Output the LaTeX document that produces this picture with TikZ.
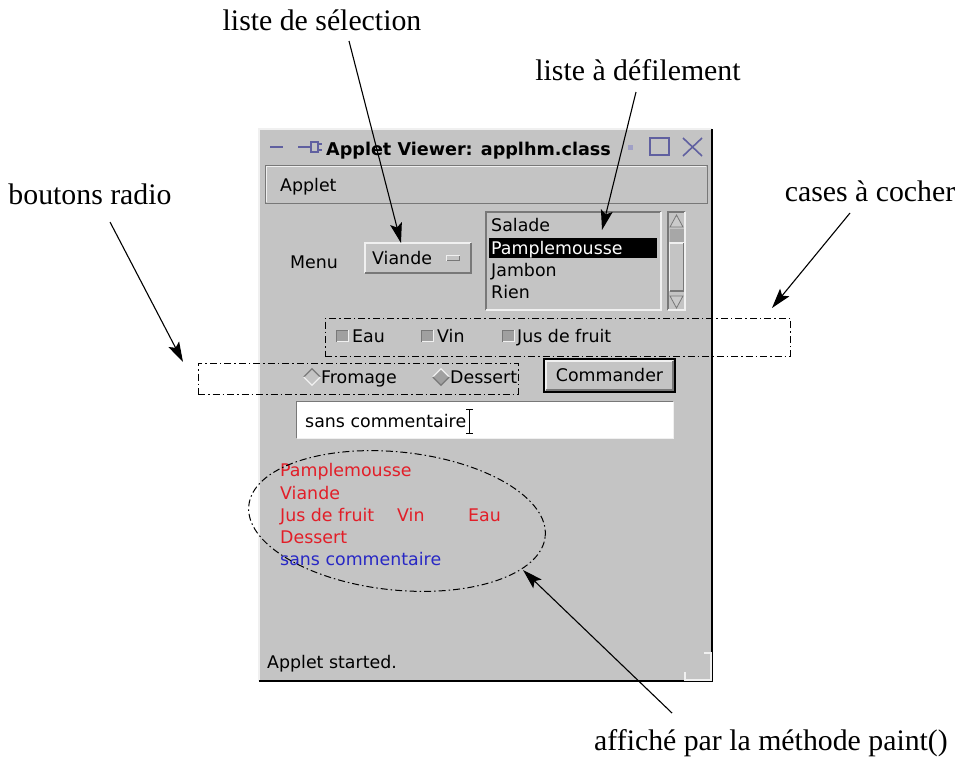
\documentclass[tikz,border=0pt]{standalone}
\usepackage{fontspec}
\usetikzlibrary{arrows.meta,shapes.geometric}
\newfontfamily\lblfont{Liberation Serif}
\newfontfamily\uifont{DejaVu Sans}
\definecolor{panel}{RGB}{196,196,196}
\definecolor{uilight}{RGB}{240,240,240}
\definecolor{uidark}{RGB}{120,120,120}
\definecolor{boxfill}{RGB}{160,160,160}
\definecolor{paintred}{RGB}{226,30,40}
\definecolor{paintblue}{RGB}{40,40,196}
\definecolor{iconblue}{RGB}{96,96,160}
% one colour on the top/left edges, another on the bottom/right edges
\newcommand\uibevel[3]{%
  \draw[#2,line width=1.2pt] (#1.south west) -- (#1.north west) -- (#1.north east);
  \draw[#3,line width=1.2pt] (#1.north east) -- (#1.south east) -- (#1.south west);}
\tikzset{
  lbl/.style={font=\lblfont\fontsize{29.8}{34}\selectfont, inner sep=0, anchor=base},
  ui/.style={font=\uifont\fontsize{17.4}{20}\selectfont, inner sep=0, anchor=base west},
  uibold/.style={font=\uifont\bfseries\fontsize{17.6}{20}\selectfont, inner sep=0, anchor=base west},
  widget/.style={inner sep=0, outer sep=0, fill=panel},
  group/.style={draw, line width=1pt, dash pattern=on 7pt off 3pt on 1.5pt off 3pt, inner sep=0},
  arr/.style={line width=1.1pt, -{Stealth[length=20pt,width=12pt,inset=4pt]}},
  icon/.style={iconblue, line width=1.6pt}
}
\begin{document}
\begin{tikzpicture}[x=1pt,y=-1pt]
\useasboundingbox (0,0) rectangle (972,758);
\fill[white] (0,0) rectangle (972,758);

% ---- applet window ----
\node[widget, minimum width=453pt, minimum height=552pt, anchor=north west] (win) at (259,129) {};
\draw[uilight,line width=1.5pt] (win.south west) -- (win.north west) -- (win.north east);
\draw[black,line width=2.5pt] (win.north east) -- (win.south east) -- (win.south west);

% title bar
\draw[icon] (270,147) -- (283,147);
\draw[icon] (298,147) -- (311,147);
\draw[icon,line width=1.2pt] (311,142) rectangle (318,152);
\draw[icon,line width=1.2pt] (318,144) -- (322,144) (318,150) -- (322,150);
\node[uibold] (title) at (326,155) {Applet Viewer: applhm.class};
\fill[iconblue!60] (628,145) rectangle (633,150);
\draw[icon] (650,138) rectangle (669,155);
\draw[icon] (683,138) -- (702,156) (702,138) -- (683,156);

% menu bar
\node[widget, minimum width=442pt, minimum height=38pt] (menubar) at (486,184) {};
\draw[uidark,line width=1pt] (menubar.south west) rectangle (menubar.north east);
\draw[uilight,line width=1pt] ([shift={(1.5pt,1.5pt)}]menubar.south west) |- ([shift={(-1.5pt,-1.5pt)}]menubar.north east);
\node[ui] (menuitem) at (280,191) {Applet};

% choice
\node[ui] (menulbl) at (290,268) {Menu};
\node[widget, minimum width=106pt, minimum height=30pt] (choice) at (418,258) {};
\uibevel{choice}{uilight}{uidark}
\node[ui] (choicetxt) at (372,264) {Viande};
\node[widget, minimum width=13pt, minimum height=5pt] (choiceind) at (453,258) {};
\uibevel{choiceind}{uilight}{uidark}

% scrolling list
\node[widget, minimum width=175pt, minimum height=98pt] (list) at (573.5,261) {};
\uibevel{list}{uidark}{uilight}
\node[inner sep=0, fill=black, minimum width=168pt, minimum height=20pt] (sel) at (573,248) {};
\node[ui] (it1) at (491,231) {Salade};
\node[ui, text=white] (it2) at (491,254) {Pamplemousse};
\node[ui] (it3) at (491,276) {Jambon};
\node[ui] (it4) at (491,298) {Rien};
\node[widget, minimum width=17pt, minimum height=98pt] (scroll) at (676.5,261) {};
\uibevel{scroll}{uidark}{uilight}
\fill[panel!85!black] (669.5,229) rectangle (683.5,243);
\node[widget, minimum width=14pt, minimum height=48pt] (thumb) at (676.5,267) {};
\uibevel{thumb}{uilight}{uidark}
\filldraw[fill=panel!90!white, draw=uidark, line width=0.8pt] (676.5,215) -- (683,227) -- (670,227) -- cycle;
\filldraw[fill=panel!90!white, draw=uidark, line width=0.8pt] (670,296) -- (683,296) -- (676.5,308) -- cycle;

% check boxes
\node[group, minimum width=465pt, minimum height=38pt] (checkgrp) at (557.5,337) {};
\foreach \cx/\nm in {342.5/cbA, 427.5/cbB, 508.5/cbC} {
  \node[inner sep=0, fill=boxfill, minimum size=11pt] (\nm) at (\cx,336) {};
  \uibevel{\nm}{uidark}{uilight}
}
\node[ui] (cbtA) at (352,342) {Eau};
\node[ui] (cbtB) at (437,342) {Vin};
\node[ui] (cbtC) at (517,342) {Jus de fruit};

% radio buttons
\node[group, minimum width=320pt, minimum height=31pt] (radiogrp) at (358,378.5) {};
\node[diamond, inner sep=0, minimum size=16pt, fill=panel] (rbA) at (312,377) {};
\draw[uidark,line width=1.2pt] (rbA.west) -- (rbA.north) -- (rbA.east);
\draw[uilight,line width=1.2pt] (rbA.east) -- (rbA.south) -- (rbA.west);
\node[diamond, inner sep=0, minimum size=16pt, fill=boxfill] (rbB) at (441,377) {};
\draw[uilight,line width=1.2pt] (rbB.west) -- (rbB.north) -- (rbB.east);
\draw[uidark,line width=1.2pt] (rbB.east) -- (rbB.south) -- (rbB.west);
\node[ui] (rbtA) at (321,383) {Fromage};
\node[ui] (rbtB) at (450,383) {Dessert};

% button
\node[widget, draw=black, line width=1.6pt, minimum width=131pt, minimum height=33pt] (cmd) at (609.5,375.5) {};
\draw[uilight,line width=1.2pt] ([shift={(2pt,2pt)}]cmd.south west) |- ([shift={(-2pt,-2pt)}]cmd.north east);
\draw[uidark,line width=1.2pt] ([shift={(-2pt,-2pt)}]cmd.north east) |- ([shift={(2pt,2pt)}]cmd.south west);
\node[ui, anchor=base] (cmdtxt) at (609.5,381.5) {Commander};

% text field
\node[inner sep=0, fill=white, minimum width=376pt, minimum height=36pt] (field) at (485,420) {};
\uibevel{field}{uidark}{uilight}
\node[ui] (fieldtxt) at (305,427) {sans commentaire};
\draw[black,line width=1pt] (469.5,409) -- (469.5,433) (466,409) -- (473,409) (466,433) -- (473,433);

% output of paint()
\node[ui, text=paintred] (p1) at (280,476) {Pamplemousse};
\node[ui, text=paintred] (p2) at (280,499) {Viande};
\node[ui, text=paintred] (p3) at (280,521) {Jus de fruit};
\node[ui, text=paintred] (p4) at (397,521) {Vin};
\node[ui, text=paintred] (p5) at (468,521) {Eau};
\node[ui, text=paintred] (p6) at (280,543) {Dessert};
\node[ui, text=paintblue] (p7) at (280,565) {sans commentaire};
\node[ellipse, group, minimum width=298pt, minimum height=138pt, rotate=-6] (paint) at (397,521) {};

% status line and resize grip
\node[ui] (status) at (267,668) {Applet started.};
\draw[uilight,line width=1.2pt] (704,653) -- (711,653) -- (711,680) -- (685,680) -- (685,672);

% ---- annotations ----
\node[lbl] (lsel) at (322,30) {liste de sélection};
\node[lbl] (ldef) at (638,80) {liste à défilement};
\node[lbl] (lrad) at (90,204) {boutons radio};
\node[lbl] (lchk) at (870,201) {cases à cocher};
\node[lbl] (lpnt) at (771,750) {affiché par la méthode paint()};

\coordinate (selS) at (349,41);
\coordinate (selT) at ([xshift=-17pt]choice.north);
\coordinate (defS) at (636,92);
\coordinate (defT) at (602,230);
\coordinate (radS) at (110,222);
\coordinate (radT) at (183,362);
\coordinate (chkS) at (850,213);
\coordinate (chkT) at (772,308);
\coordinate (pntS) at (672,713);
\coordinate (pntT) at (523,570);

\draw[arr] (selS) -- (selT);
\draw[arr] (defS) -- (defT);
\draw[arr] (radS) -- (radT);
\draw[arr] (chkS) -- (chkT);
\draw[arr] (pntS) -- (pntT);
\end{tikzpicture}
\end{document}
